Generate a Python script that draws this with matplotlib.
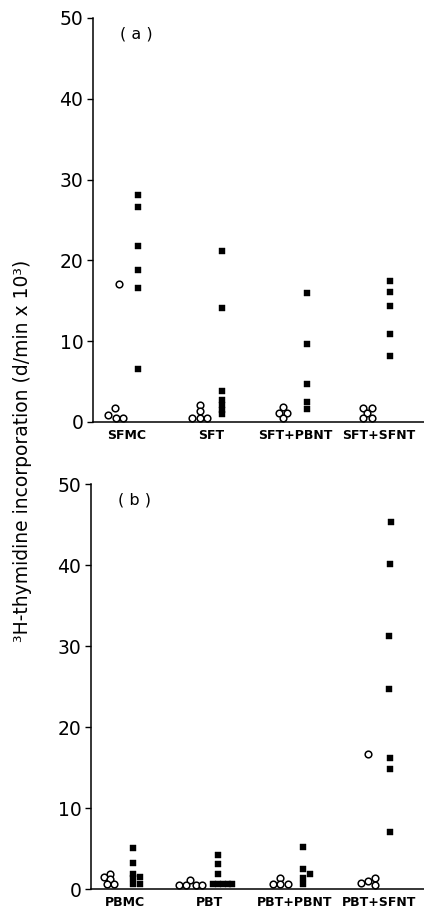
import matplotlib.pyplot as plt

plt.rcParams['font.family'] = ['DejaVu Sans']

labels_a = ['SFMC', 'SFT', 'SFT+PBNT', 'SFT+SFNT']
labels_b = ['PBMC', 'PBT', 'PBT+PBNT', 'PBT+SFNT']

# values (d/min x 10^3), open circles and filled squares per group
open_a = [
    [17.1, 1.7, 0.8, 0.5, 0.5],
    [2.1, 1.3, 0.5, 0.5, 0.5],
    [1.8, 1.1, 1.1, 0.5],
    [1.7, 1.7, 1.1, 0.5, 0.5],
]
filled_a = [
    [28.1, 26.6, 21.8, 18.8, 16.6, 6.5],
    [21.1, 14.1, 3.8, 2.7, 2.1, 1.5, 1.0],
    [15.9, 9.7, 4.7, 2.5, 1.6],
    [17.5, 16.1, 14.3, 10.9, 8.2],
]
open_b = [
    [1.9, 1.5, 1.2, 0.6, 0.6],
    [1.1, 0.5, 0.5, 0.5, 0.5],
    [1.3, 0.6, 0.6, 0.6],
    [16.7, 1.3, 1.0, 0.8, 0.5],
]
filled_b = [
    [5.1, 3.2, 1.9, 1.5, 1.3, 0.6, 0.6],
    [4.2, 3.1, 1.8, 0.6, 0.6, 0.6, 0.6, 0.6],
    [5.2, 2.5, 1.9, 1.3, 0.6],
    [45.3, 40.1, 31.2, 24.7, 16.2, 14.8, 7.0],
]

# layout: group offsets (category units) and point spread (pixels)
open_off_a = [-0.13, -0.13, -0.14, -0.14]
filled_off_a = [0.13, 0.13, 0.14, 0.13]
open_off_b = [-0.19, -0.23, -0.17, -0.13]
filled_off_b = [0.09, 0.10, 0.10, 0.13]

open_dx_a = [[3, -1, -8, 0, 7], [0, 0, -8, 0, 7], [0, -4, 4, 0], [-4.5, 4.5, 0, -4.5, 4.5]]
filled_dx_a = [[0] * 6, [0] * 7, [0] * 5, [0] * 5]
open_dx_b = [[1, -5, 1, -2.5, 4.5], [-0.5, -11, -4.5, 5.3, 11.5], [0, -7, 0, 8], [0, 7.5, 0, -7, 7.5]]
filled_dx_b = [[0, 0, 0, 7, 0, 0, 7], [0, 0, 0, -5.5, -0.5, 4.5, 9.5, 13.5], [0, 0, 7, 0, 0], [1, 0.5, -1, -1, 0.5, 0.5, 0.5]]

px = 84.0  # pixels per category unit

fig = plt.figure(figsize=(4.24, 9.09), dpi=100)
ax1 = fig.add_axes([0.2193, 0.5358, 0.7807, 0.4444])
ax2 = fig.add_axes([0.2146, 0.0220, 0.7854, 0.4455])


def draw(ax, labels, opn, fld, o_off, f_off, o_dx, f_dx, tag):
    for i in range(len(labels)):
        xo = [i + o_off[i] + d / px for d in o_dx[i]]
        xf = [i + f_off[i] + d / px for d in f_dx[i]]
        ax.plot(xo, opn[i], 'o', ms=4.8, mfc='white', mec='black', mew=1.1,
                ls='none', clip_on=False, zorder=3)
        ax.plot(xf, fld[i], 's', ms=4.3, mfc='black', mec='black', mew=0.3,
                ls='none', clip_on=False, zorder=3)
    ax.set_xlim(-0.405, 3.536)
    ax.set_ylim(0, 50)
    ax.set_yticks([0, 10, 20, 30, 40, 50])
    ax.set_xticks(range(len(labels)))
    ax.set_xticklabels(labels, fontsize=9, fontweight='bold')
    ax.tick_params(axis='x', length=0, pad=5)
    ax.tick_params(axis='y', length=4, width=1.0, labelsize=13.5, pad=3)
    ax.spines['top'].set_visible(False)
    ax.spines['right'].set_visible(False)
    ax.spines['left'].set_linewidth(1.1)
    ax.spines['bottom'].set_linewidth(1.1)
    ax.text(0.13, 0.96, tag, transform=ax.transAxes, fontsize=11.5,
            ha='center', va='center')


draw(ax1, labels_a, open_a, filled_a, open_off_a, filled_off_a, open_dx_a, filled_dx_a, '( a )')
draw(ax2, labels_b, open_b, filled_b, open_off_b, filled_off_b, open_dx_b, filled_dx_b, '( b )')

fig.text(0.054, 0.504, '³H-thymidine incorporation (d/min x 10³)', rotation=90,
         ha='center', va='center', fontsize=13.5)

fig.savefig('out.png', dpi=100)
